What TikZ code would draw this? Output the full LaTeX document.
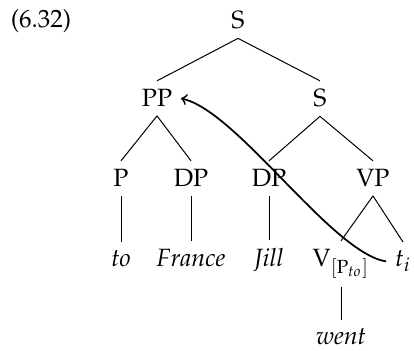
\documentclass[tikz,border=0pt]{standalone}
\usepackage[T1]{fontenc}
\usepackage{mathpazo}
\begin{document}
\begin{tikzpicture}[x=0.4pt,y=-0.4pt,
  lab/.style={anchor=base},
  branch/.style={line width=0.4pt},
  move/.style={->,line width=0.7pt}]
\useasboundingbox (0,0) rectangle (414,351);
% example number
\node[lab] (num) at (41,28) {(6.32)};
% tree nodes
\node[lab] (s0) at (238,29) {S};
\node[lab] (pp) at (157,107) {PP};
\node[lab] (s1) at (320,107) {S};
\node[lab] (p) at (121,187) {P};
\node[lab] (dp1) at (191,187) {DP};
\node[lab] (dp2) at (269,187) {DP};
\node[lab] (vp) at (373,187) {VP};
\node[lab] (to) at (121,267) {\itshape to};
\node[lab] (fr) at (191,267) {\itshape France};
\node[lab] (jill) at (269,267) {\itshape Jill};
\node[lab] (v) at (341,267) {V$_{[\mathrm{P}_{to}]}$};
\node[lab] (ti) at (403,267) {$t_i$};
\node[lab] (went) at (341,345) {\itshape went};
% branches
\draw[branch] (s0.south) -- (pp.north);
\draw[branch] (s0.south) -- (s1.north);
\draw[branch] (pp.south) -- (p.north);
\draw[branch] (pp.south) -- (dp1.north);
\draw[branch] (s1.south) -- (dp2.north);
\draw[branch] (s1.south) -- (vp.north);
\draw[branch] (p.south) -- (to.north);
\draw[branch] (dp1.south) -- (fr.north);
\draw[branch] (dp2.south) -- (jill.north);
\draw[branch] (vp.south) -- (v.north);
\draw[branch] (vp.south) -- (ti.north);
\draw[branch] (v.south) -- (v.south |- went.north);
% movement arrow from the trace to the fronted PP
\draw[move] (ti.west) .. controls +(-55,-9) and +(57,13) .. (pp.east);
\end{tikzpicture}
\end{document}
